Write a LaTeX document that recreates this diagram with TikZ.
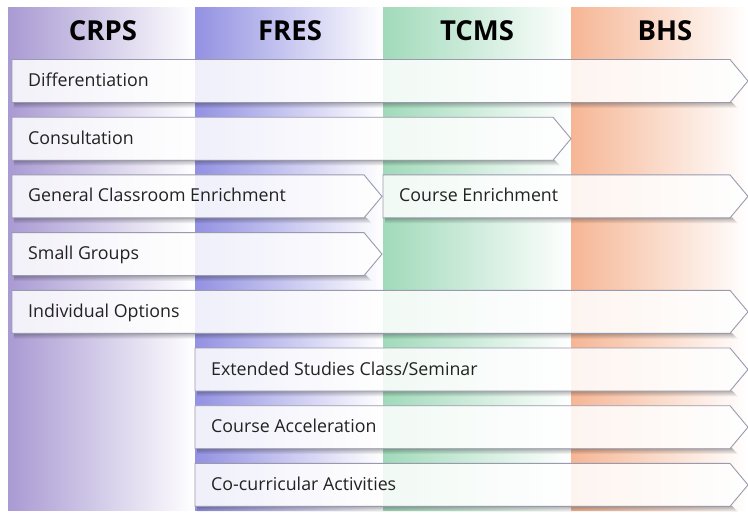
\documentclass[tikz,border=0pt]{standalone}
\usepackage{fontspec}
\setmainfont{Open Sans}
\usetikzlibrary{fadings}
\definecolor{crpspurple}{HTML}{A99AD3}
\definecolor{fresblue}{HTML}{9391E2}
\definecolor{tcmsgreen}{HTML}{A1DABA}
\definecolor{bhsorange}{HTML}{F6B695}
\definecolor{barline}{HTML}{9A9AAE}
\definecolor{labeltext}{HTML}{222222}

% one service bar: name, left x, end of body x, centre y, label
\newcommand{\stagebar}[5]{%
  \fill[barshadow] (#2+2,#4+21) -- (#3+2,#4+21) -- (#3+8,#4+27) -- (#2+2,#4+27) -- cycle;
  \draw[barbox] (#2,#4-21.5) -- (#3,#4-21.5) -- (#3+18,#4) -- (#3,#4+21.5) -- (#2,#4+21.5) -- cycle;
  \node[barlabel] (#1) at (#2+16,#4+5.5) {#5};
}

\begin{document}
\begin{tikzpicture}[x=1pt, y=-1pt,
  header/.style={anchor=base, inner sep=0pt, font=\fontsize{27.5}{30}\selectfont\bfseries, text=black},
  barlabel/.style={anchor=base west, inner sep=0pt, font=\fontsize{17.8}{20}\selectfont, text=labeltext},
  barbox/.style={draw=barline, line width=0.9pt, line join=miter, fill=white, fill opacity=0.86},
  barshadow/.style={black, opacity=0.3, path fading=south}]
  \useasboundingbox (0,0) rectangle (748,514);

  % school columns
  \shade[left color=crpspurple, right color=white] (8,7) rectangle (195,510);
  \shade[left color=fresblue, right color=white] (195,7) rectangle (383,510);
  \shade[left color=tcmsgreen, right color=white] (383,7) rectangle (571,510);
  \shade[left color=bhsorange, right color=white] (571,7) rectangle (748,510);

  \node[header] (crps) at (103,40) {CRPS};
  \node[header] (fres) at (290,40) {FRES};
  \node[header] (tcms) at (477,40) {TCMS};
  \node[header] (bhs) at (665,40) {BHS};

  % services, top to bottom
  \stagebar{diff}{12}{730}{81}{Differentiation}
  \stagebar{consult}{12}{553}{138.7}{Consultation}
  \stagebar{gce}{12}{364}{196.4}{General Classroom Enrichment}
  \stagebar{course}{383}{730}{196.4}{Course Enrichment}
  \stagebar{small}{12}{364}{254.1}{Small Groups}
  \stagebar{indiv}{12}{730}{311.8}{Individual Options}
  \stagebar{extended}{195}{730}{369.5}{Extended Studies Class/Seminar}
  \stagebar{accel}{195}{730}{427.2}{Course Acceleration}
  \stagebar{cocurr}{195}{730}{484.9}{Co-curricular Activities}
\end{tikzpicture}
\end{document}
